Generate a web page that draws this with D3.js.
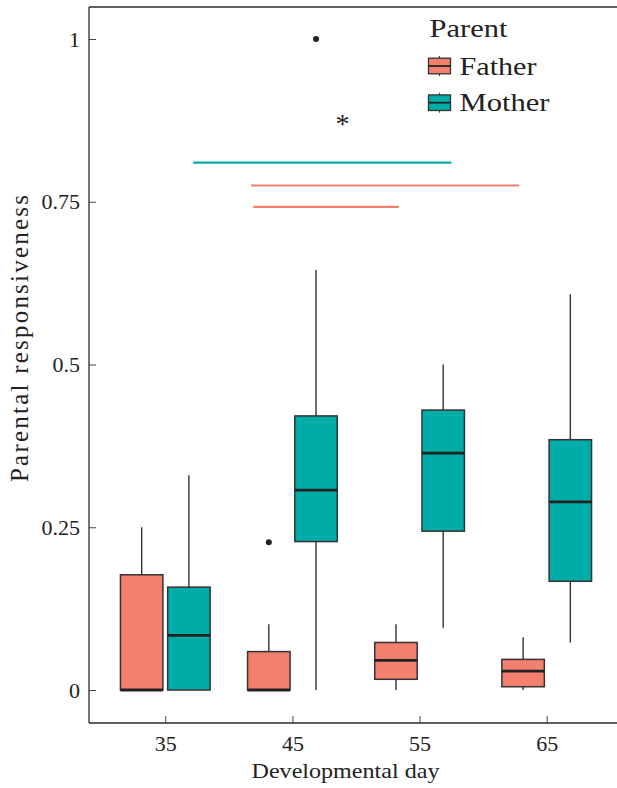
<!DOCTYPE html>
<html><head><meta charset="utf-8">
<script src="https://cdn.jsdelivr.net/npm/d3@7"></script>
<style>body{margin:0;background:#fff;} svg{display:block;font-family:"Liberation Serif","Times New Roman",serif;}</style>
</head><body>
<script>
// ---- data ----
const days = [35, 45, 55, 65];
const parents = ["Father", "Mother"];
const colors = ["#F37F6F", "#00ACA8"];
// [lower whisker, q1, median, q3, upper whisker] per day
const fatherStats = [
  [0, 0, 0, 0.177, 0.25],
  [0, 0, 0, 0.059, 0.101],
  [0, 0.0164, 0.0456, 0.073, 0.101],
  [0, 0.005, 0.029, 0.047, 0.081]
];
const motherStats = [
  [0, 0, 0.084, 0.158, 0.330],
  [0, 0.228, 0.307, 0.421, 0.645],
  [0.0957, 0.244, 0.364, 0.430, 0.50],
  [0.073, 0.167, 0.289, 0.3845, 0.608]
];
const outlierDay = [45, 45];
const outlierParent = ["Father", "Mother"];
const outlierValue = [0.227, 1.0];
const sigParent = ["Mother", "Father", "Father"];
const sigFrom = [37.2, 41.74, 41.92];
const sigTo = [57.5, 62.83, 53.36];
const sigValue = [0.81, 0.775, 0.742];
const starDay = 48.93, starValue = 0.855;
const yTicks = [0, 0.25, 0.5, 0.75, 1];
const yTickLabels = ["0", "0.25", "0.5", "0.75", "1"];
const xTitle = "Developmental day";
const yTitle = "Parental responsiveness";
const legendTitle = "Parent";

// ---- layout ----
const W = 617, H = 788;
const pLeft = 89, pTop = 7, pBottom = 723, pRight = 623;
const svg = d3.select("body").append("svg").attr("width", W).attr("height", H);
const x = d3.scaleLinear().domain([29, 71]).range([pLeft, pRight]);
const y = d3.scaleLinear().domain([0, 1]).range([690, 39]);
const dodge = 1.857, boxW = 3.34;
const color = d3.scaleOrdinal().domain(parents).range(colors);
const offset = p => p === "Father" ? -dodge : dodge;

const boxes = [];
days.forEach((d, i) => {
  boxes.push({day: d, parent: "Father", s: fatherStats[i]});
  boxes.push({day: d, parent: "Mother", s: motherStats[i]});
});

// panel border
const ink = "#2b2b2b";
svg.append("line").attr("x1", pLeft).attr("x2", pRight).attr("y1", pTop).attr("y2", pTop).attr("stroke", ink).attr("stroke-width", 1.3);

// axes
const yAxis = d3.axisLeft(y).tickValues(yTicks).tickFormat((d, i) => yTickLabels[i]).tickSizeInner(-7).tickSizeOuter(0).tickPadding(9);
const gy = svg.append("g").attr("transform", `translate(${pLeft},0)`).call(yAxis);
gy.select(".domain").remove();
svg.append("line").attr("x1", pLeft).attr("x2", pLeft).attr("y1", pTop).attr("y2", pBottom).attr("stroke", ink).attr("stroke-width", 1.3);
gy.selectAll(".tick line").attr("stroke", "#444").attr("stroke-width", 1);
gy.selectAll(".tick text").attr("font-size", 22).attr("fill", "#222").attr("font-family", "Liberation Serif");

const xAxis = d3.axisBottom(x).tickValues(days).tickFormat(d3.format("d")).tickSizeInner(-7).tickSizeOuter(0).tickPadding(12);
const gx = svg.append("g").attr("transform", `translate(0,${pBottom})`).call(xAxis);
gx.select(".domain").remove();
svg.append("line").attr("x1", pLeft).attr("x2", pRight).attr("y1", pBottom).attr("y2", pBottom).attr("stroke", ink).attr("stroke-width", 1.3);
gx.selectAll(".tick line").attr("stroke", "#444").attr("stroke-width", 1);
gx.selectAll(".tick text").attr("font-size", 22).attr("fill", "#222").attr("font-family", "Liberation Serif");

// boxes
const g = svg.append("g");
const bx = g.selectAll("g.box").data(boxes).join("g").attr("class", "box");
bx.append("line")
  .attr("x1", d => x(d.day + offset(d.parent))).attr("x2", d => x(d.day + offset(d.parent)))
  .attr("y1", d => y(d.s[0])).attr("y2", d => y(d.s[4]))
  .attr("stroke", "#333").attr("stroke-width", 1.4);
bx.append("rect")
  .attr("x", d => x(d.day + offset(d.parent) - boxW / 2))
  .attr("width", d => x(d.day + offset(d.parent) + boxW / 2) - x(d.day + offset(d.parent) - boxW / 2))
  .attr("y", d => y(d.s[3])).attr("height", d => y(d.s[1]) - y(d.s[3]))
  .attr("fill", d => color(d.parent)).attr("stroke", "#333").attr("stroke-width", 1.5);
bx.append("line")
  .attr("x1", d => x(d.day + offset(d.parent) - boxW / 2)).attr("x2", d => x(d.day + offset(d.parent) + boxW / 2))
  .attr("y1", d => y(d.s[2])).attr("y2", d => y(d.s[2]))
  .attr("stroke", "#222").attr("stroke-width", 2.8);

// outliers
g.selectAll("circle.out").data(outlierValue).join("circle").attr("class", "out")
  .attr("cx", (v, i) => x(outlierDay[i] + offset(outlierParent[i])))
  .attr("cy", v => y(v)).attr("r", 3).attr("fill", "#222");

// significance lines
g.selectAll("line.sig").data(sigValue).join("line").attr("class", "sig")
  .attr("x1", (v, i) => x(sigFrom[i])).attr("x2", (v, i) => x(sigTo[i]))
  .attr("y1", v => y(v)).attr("y2", v => y(v))
  .attr("stroke", (v, i) => color(sigParent[i])).attr("stroke-width", 2.2);

svg.append("text").attr("x", x(starDay)).attr("y", y(starValue)).attr("text-anchor", "middle")
  .attr("font-size", 28).attr("fill", "#222").text("*");

// titles
svg.append("text").attr("x", 345.5).attr("y", 778).attr("text-anchor", "middle")
  .attr("font-size", 22).attr("fill", "#222").attr("textLength", 188).attr("lengthAdjust", "spacingAndGlyphs").text(xTitle);
svg.append("text").attr("transform", "translate(28,338.5) rotate(-90)").attr("text-anchor", "middle")
  .attr("font-size", 25).attr("fill", "#222").attr("textLength", 287).attr("lengthAdjust", "spacing").text(yTitle);

// legend
const lg = svg.append("g");
lg.append("text").attr("x", 429.5).attr("y", 36.7).attr("font-size", 26).attr("fill", "#222")
  .attr("textLength", 78).attr("lengthAdjust", "spacingAndGlyphs").text(legendTitle);
const keyY = [66, 102.7];
const keyTextW = [77, 90];
parents.forEach((p, i) => {
  const cy = keyY[i];
  lg.append("line").attr("x1", 439.5).attr("x2", 439.5).attr("y1", cy - 10).attr("y2", cy + 10).attr("stroke", "#444").attr("stroke-width", 1.2);
  lg.append("rect").attr("x", 428.5).attr("y", cy - 7.8).attr("width", 22).attr("height", 15.6)
    .attr("fill", color(p)).attr("stroke", "#333").attr("stroke-width", 1.3);
  lg.append("line").attr("x1", 428.5).attr("x2", 450.5).attr("y1", cy).attr("y2", cy).attr("stroke", "#222").attr("stroke-width", 1.8);
  lg.append("text").attr("x", 459.5).attr("y", cy + 8.5).attr("font-size", 26).attr("fill", "#222")
    .attr("textLength", keyTextW[i]).attr("lengthAdjust", "spacingAndGlyphs").text(p);
});
</script>
</body></html>
